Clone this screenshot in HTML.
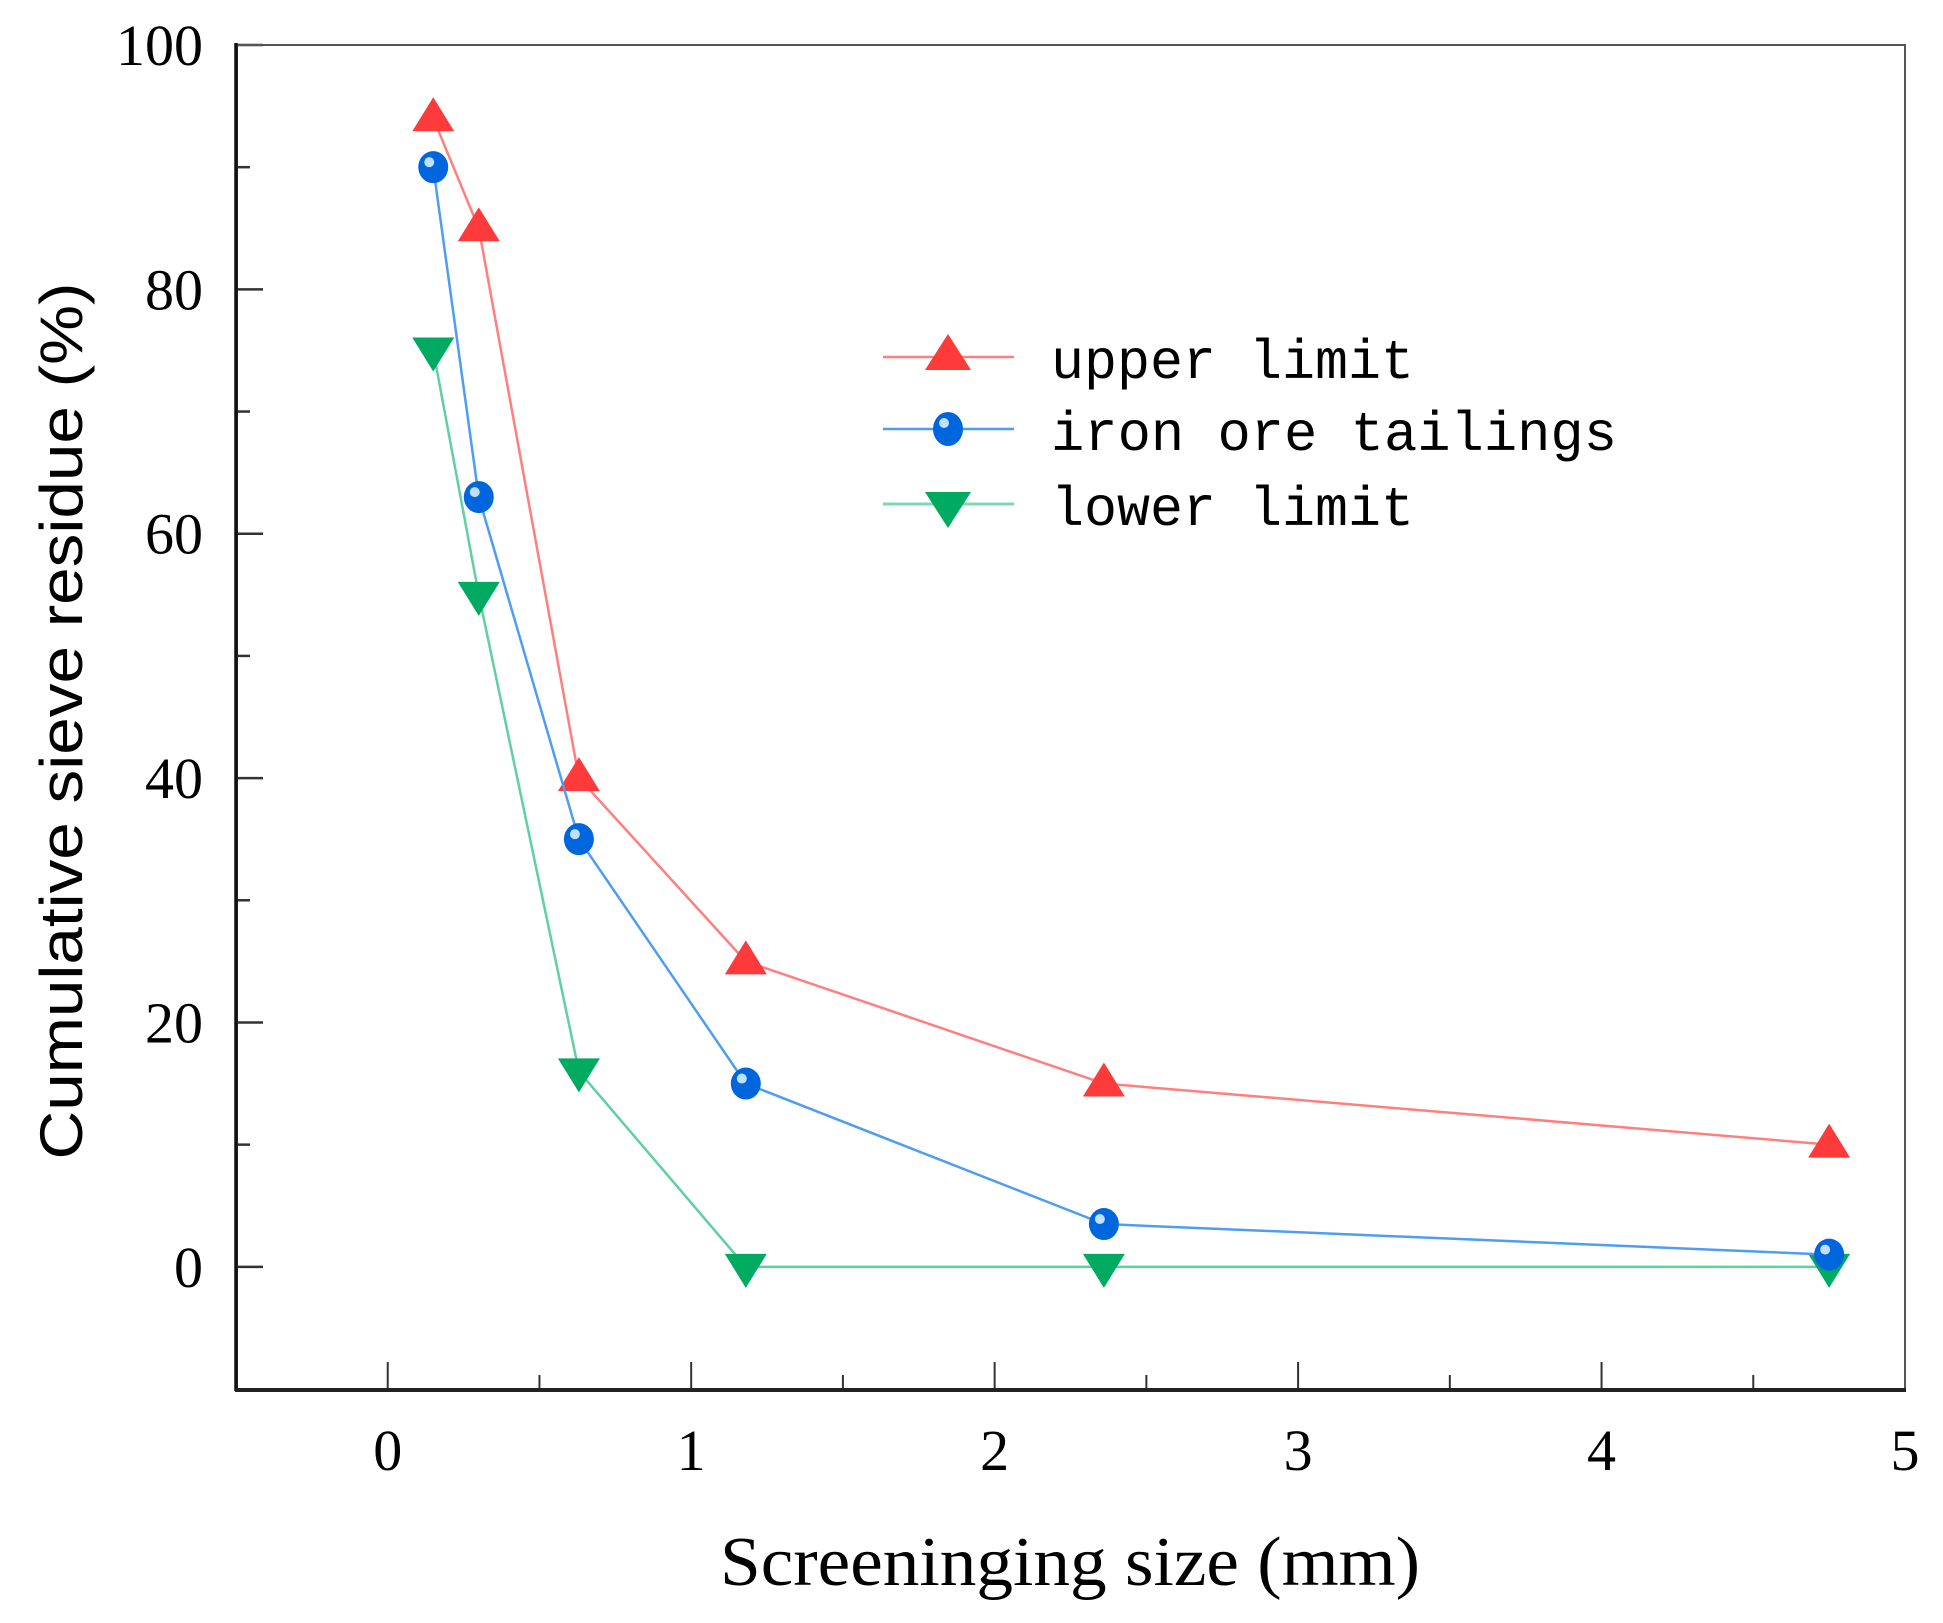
<!DOCTYPE html>
<html><head><meta charset="utf-8"><style>
html,body{margin:0;padding:0;background:#fff}
svg{display:block}
</style></head><body>
<svg id="chart" width="1943" height="1623" viewBox="0 0 1943 1623" xmlns="http://www.w3.org/2000/svg">
<g id="grid-ticks"></g>
<g id="series"></g>
<rect x="237" y="45" width="1668" height="1344" fill="none" stroke="#555" stroke-width="2"/>
<line x1="236" y1="43" x2="236" y2="1391" stroke="#111" stroke-width="3.5"/>
<line x1="235" y1="1390" x2="1906" y2="1390" stroke="#222" stroke-width="4"/>
<text x="1070" y="1585" text-anchor="middle" font-family="Liberation Serif, serif" font-size="70" textLength="700" lengthAdjust="spacingAndGlyphs">Screeninging size (mm)</text>
<text transform="translate(82,721) rotate(-90)" text-anchor="middle" font-family="Liberation Sans, sans-serif" font-size="60" textLength="877" lengthAdjust="spacingAndGlyphs">Cumulative sieve residue (%)</text>
<g>
 <g>
  <line x1="883" y1="357" x2="1014" y2="357" stroke="#ff7f7f" stroke-width="2.5"/>
  <polygon points="948,334 971,370 925,370" fill="#ff3a3a"/>
  <text x="1051" y="378" font-family="Liberation Mono, monospace" font-size="56" textLength="363" lengthAdjust="spacingAndGlyphs">upper limit</text>
 </g>
 <g>
  <line x1="883" y1="429" x2="1014" y2="429" stroke="#4f9df0" stroke-width="2.5"/>
  <ellipse cx="948" cy="429" rx="15" ry="17" fill="#0066dd"/>
  <ellipse cx="944" cy="423" rx="5" ry="5" fill="#bfe0ff"/>
  <text x="1051" y="450" font-family="Liberation Mono, monospace" font-size="56" textLength="566" lengthAdjust="spacingAndGlyphs">iron ore tailings</text>
 </g>
 <g>
  <line x1="883" y1="504" x2="1014" y2="504" stroke="#7fd8b0" stroke-width="3"/>
  <polygon points="925,492 971,492 948,528" fill="#00aa60"/>
  <text x="1051" y="525" font-family="Liberation Mono, monospace" font-size="56" textLength="363" lengthAdjust="spacingAndGlyphs">lower limit</text>
 </g>
</g>
</svg>
<script>
const sizes = [0.15, 0.3, 0.63, 1.18, 2.36, 4.75];
const upperLimit = [94, 85, 40, 25, 15, 10];
const ironOre = [90, 63, 35, 15, 3.5, 1];
const lowerLimit = [75, 55, 16, 0, 0, 0];
const xTicks = [0, 1, 2, 3, 4, 5];
const yTicks = [0, 20, 40, 60, 80, 100];

const NS = 'http://www.w3.org/2000/svg';
const L = 236, R = 1905, T = 45, B = 1389;
const xMin = -0.5, xMax = 5, yMin = -10, yMax = 100;
function sx(v){ return L + (v - xMin) / (xMax - xMin) * (R - L); }
function sy(v){ return B - (v - yMin) / (yMax - yMin) * (B - T); }
function mk(tag, attrs, parent){
  const e = document.createElementNS(NS, tag);
  for (const k in attrs) e.setAttribute(k, attrs[k]);
  parent.appendChild(e); return e;
}
const tg = document.getElementById('grid-ticks');
for (let v = 0; v <= 100; v += 10) {
  const major = v % 20 === 0;
  const t = mk('line', {x1: L, x2: L + (major ? 27 : 14), y1: sy(v), y2: sy(v), stroke: '#333', 'stroke-width': 2.5}, tg);
  
  
}
yTicks.forEach(v => {
  const t = mk('text', {x: 203, y: sy(v) + 20, 'text-anchor': 'end', 'font-family': 'Liberation Serif, serif', 'font-size': 58}, tg);
  t.textContent = v;
  
  
});
for (let v = 0; v <= 4.5; v += 0.5) {
  const major = Math.abs(v - Math.round(v)) < 1e-9;
  const t = mk('line', {x1: sx(v), x2: sx(v), y1: B, y2: B - (major ? 27 : 14), stroke: '#333', 'stroke-width': 2}, tg);
  
  
}
xTicks.forEach(v => {
  const t = mk('text', {x: sx(v), y: 1470, 'text-anchor': 'middle', 'font-family': 'Liberation Serif, serif', 'font-size': 58}, tg);
  t.textContent = v;
  
  
});

const sg = document.getElementById('series');
function drawSeries(vals, lineColor, name, marker, markColor){
  const g = mk('g', {}, sg);
  
  
  const pts = sizes.map((x, i) => sx(x) + ',' + sy(vals[i])).join(' ');
  const pl = mk('polyline', {points: pts, fill: 'none', stroke: lineColor, 'stroke-width': 2.5}, g);
  
  
  sizes.forEach((x, i) => {
    const cx = sx(x), cy = sy(vals[i]);
    let m;
    if (marker === 'up') m = mk('polygon', {points: `${cx},${cy-21} ${cx+21},${cy+13} ${cx-21},${cy+13}`, fill: markColor}, g);
    else if (marker === 'down') m = mk('polygon', {points: `${cx-21},${cy-13} ${cx+21},${cy-13} ${cx},${cy+21}`, fill: markColor}, g);
    else {
      m = mk('ellipse', {cx: cx, cy: cy, rx: 15, ry: 16, fill: markColor}, g);
      mk('ellipse', {cx: cx - 4, cy: cy - 5, rx: 5, ry: 5, fill: '#bfe0ff'}, g);
    }
    
    
  });
}
drawSeries(lowerLimit, '#5fd0a0', 'lower-limit', 'down', '#00aa60');
drawSeries(upperLimit, '#ff7f7f', 'upper-limit', 'up', '#ff3a3a');
drawSeries(ironOre, '#4f9df0', 'iron-ore-tailings', 'circle', '#0066dd');
</script>
</body></html>
